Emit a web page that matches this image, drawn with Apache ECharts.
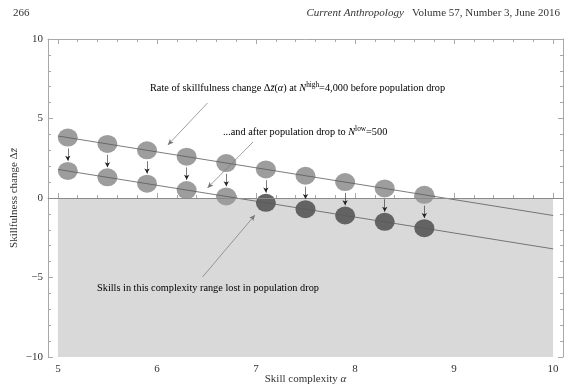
<!DOCTYPE html>
<html>
<head>
<meta charset="utf-8">
<script src="https://cdn.jsdelivr.net/npm/echarts@6/dist/echarts.min.js"></script>
<style>html,body{margin:0;padding:0;background:#fff}#c{width:571px;height:388px}</style>
</head>
<body>
<div id="c"></div>
<script>
// ---- data ----
const complexity = [5.1, 5.5, 5.9, 6.3, 6.7, 7.1, 7.5, 7.9, 8.3, 8.7];
const beforeDrop = [3.8, 3.4, 3.0, 2.6, 2.2, 1.8, 1.4, 1.0, 0.6, 0.2];
const afterDrop  = [1.7, 1.3, 0.9, 0.5, 0.1, -0.3, -0.7, -1.1, -1.5, -1.9];
const lineX      = [5, 10];
const beforeLine = [3.9, -1.1];
const afterLine  = [1.8, -3.2];
const xTickLabels = [5, 6, 7, 8, 9, 10];
const yTickLabels = [-10, -5, 0, 5, 10];
const lostRegion = { x: [5, 10], y: [0, -10] };

const FONT = '"Liberation Serif", "DejaVu Serif", serif';
const frameColor = '#a8a8a8';
const lightDot = '#9d9d9d';
const darkDot = '#636363';

const xMinor = [];
for (let i = 0; i < xTickLabels.length - 1; i++) {
  for (let k = 1; k < 5; k++) xMinor.push(+(xTickLabels[i] + k * (xTickLabels[i + 1] - xTickLabels[i]) / 5).toFixed(2));
}

function xAx(pos, major, showLabel, showLine) {
  return {
    type: 'value', position: pos, min: 4.9, max: 10.1,
    axisLine: { show: showLine, lineStyle: { color: frameColor, width: 1 } },
    axisTick: { show: true, inside: true, length: major ? 5 : 3, customValues: major ? xTickLabels : xMinor,
      lineStyle: { color: frameColor } },
    axisLabel: { show: showLabel, customValues: xTickLabels, color: '#333', fontFamily: FONT, fontSize: 11, margin: 7 },
    splitLine: { show: false }
  };
}

const xAxes = [xAx('bottom', true, true, true), xAx('bottom', false, false, false), xAx('top', true, false, true), xAx('top', false, false, false)];
xAxes[0].name = '{t|Skill complexity }{i|α}';
xAxes[0].nameLocation = 'middle';
xAxes[0].nameGap = 17;
xAxes[0].nameMoveOverlap = false;
xAxes[0].nameTextStyle = { rich: {
  t: { fontFamily: FONT, fontSize: 11, color: '#333' },
  i: { fontFamily: FONT, fontSize: 11, color: '#333', fontStyle: 'italic' }
} };

function yAx(pos, showLabel) {
  return {
    type: 'value', position: pos, min: -10, max: 10, interval: 5,
    axisLine: { show: true, lineStyle: { color: frameColor, width: 1 } },
    axisTick: { show: true, inside: true, length: 5, lineStyle: { color: frameColor } },
    minorTick: { show: true, splitNumber: 5, length: 3, lineStyle: { color: frameColor } },
    axisLabel: { show: showLabel, color: '#333', fontFamily: FONT, fontSize: 11, margin: 5,
      formatter: v => (v < 0 ? '\u2212' + Math.abs(v) : '' + v) },
    splitLine: { show: false }
  };
}
const yAxes = [yAx('left', true), yAx('right', false)];
yAxes[0].name = '{t|Skillfulness change Δ}{i|z̄}';
yAxes[0].nameLocation = 'middle';
yAxes[0].nameGap = 28;
yAxes[0].nameMoveOverlap = false;
yAxes[0].nameTextStyle = { rich: {
  t: { fontFamily: FONT, fontSize: 11, color: '#333' },
  i: { fontFamily: FONT, fontSize: 11, color: '#333', fontStyle: 'italic' }
} };

const annoRich = {
  t: { fontFamily: FONT, fontSize: 10.3, color: '#222' },
  i: { fontFamily: FONT, fontSize: 10.3, color: '#222', fontStyle: 'italic' },
  s: { fontFamily: FONT, fontSize: 7.3, color: '#222', verticalAlign: 'top', padding: [0, 0, 6, 0] }
};

// annotation arrows (data-space coordinates of the pointer lines)
const annoArrows = [
  [[6.51, 5.97], [6.11, 3.33]],
  [[6.97, 3.52], [6.51, 0.63]],
  [[6.46, -4.97], [6.99, -1.07]]
];

const chart = echarts.init(document.getElementById('c'), null, { renderer: 'canvas' });
chart.setOption({
  animation: false,
  backgroundColor: '#fff',
  grid: { left: 48, right: 8, top: 39, bottom: 31, containLabel: false, outerBoundsMode: 'none' },
  xAxis: xAxes,
  yAxis: yAxes,
  graphic: [
    { type: 'text', left: 13, top: 8, style: { text: '266', font: '11px ' + FONT, fill: '#333' } },
    { type: 'text', right: 11, top: 8, style: { text: '{i|Current Anthropology}{t|   Volume 57, Number 3, June 2016}',
      rich: { i: { fontFamily: FONT, fontSize: 11, fontStyle: 'italic', fill: '#333', color: '#333' },
              t: { fontFamily: FONT, fontSize: 11, fill: '#333', color: '#333' } } } },
    { type: 'text', left: 150, top: 82, z: 20, style: {
      text: '{t|Rate of skillfulness change Δ}{i|z̄}{t|(}{i|α}{t|) at }{i|N}{s|high}{t|=4,000 before population drop}',
      rich: annoRich } },
    { type: 'text', left: 223, top: 126, z: 20, style: {
      text: '{t|...and after population drop to }{i|N}{s|low}{t|=500}', rich: annoRich } },
    { type: 'text', left: 97, top: 283, z: 20, style: {
      text: '{t|Skills in this complexity range lost in population drop}', rich: annoRich } }
  ],
  series: [
    {
      type: 'scatter', name: 'frame', data: [], z: 1,
      markArea: { silent: true, itemStyle: { color: '#d9d9d9' },
        data: [[{ coord: [lostRegion.x[0], lostRegion.y[0]] }, { coord: [lostRegion.x[1], lostRegion.y[1]] }]] },
      markLine: { silent: true, symbol: 'none', label: { show: false },
        lineStyle: { color: '#8a8a8a', width: 1, type: 'solid' }, data: [{ yAxis: 0 }] }
    },
    {
      type: 'scatter', name: 'before', z: 3,
      data: complexity.map((x, i) => [x, beforeDrop[i]]),
      symbol: 'circle', symbolSize: [20, 18],
      itemStyle: { color: lightDot, opacity: 1 }
    },
    {
      type: 'scatter', name: 'after', z: 3,
      data: complexity.map((x, i) => [x, afterDrop[i]]),
      symbol: 'circle', symbolSize: [20, 18],
      itemStyle: { color: p => (p.value[1] < 0 ? darkDot : lightDot), opacity: 1 }
    },
    {
      type: 'line', name: 'beforeLine', z: 4, symbol: 'none',
      data: lineX.map((x, i) => [x, beforeLine[i]]),
      lineStyle: { color: '#5a5a5a', width: 0.8 }
    },
    {
      type: 'line', name: 'afterLine', z: 4, symbol: 'none',
      data: lineX.map((x, i) => [x, afterLine[i]]),
      lineStyle: { color: '#5a5a5a', width: 0.8 }
    },
    {
      type: 'scatter', name: 'arrows', data: [], z: 5,
      markLine: { silent: true, animation: false, symbol: ['none', 'arrow'], symbolSize: [4, 5],
        label: { show: false }, lineStyle: { color: '#222', width: 0.6, type: 'solid' },
        data: complexity.map((x, i) => [{ coord: [x, beforeDrop[i] - 0.68] }, { coord: [x, afterDrop[i] + 0.64] }])
      }
    },
    {
      type: 'scatter', name: 'annoArrows', data: [], z: 5,
      markLine: { silent: true, animation: false, symbol: ['none', 'arrow'], symbolSize: [4, 6],
        label: { show: false }, lineStyle: { color: '#777', width: 0.7, type: 'solid' },
        data: annoArrows.map(a => [{ coord: a[0] }, { coord: a[1] }])
      }
    }
  ]
});
</script>
</body>
</html>
